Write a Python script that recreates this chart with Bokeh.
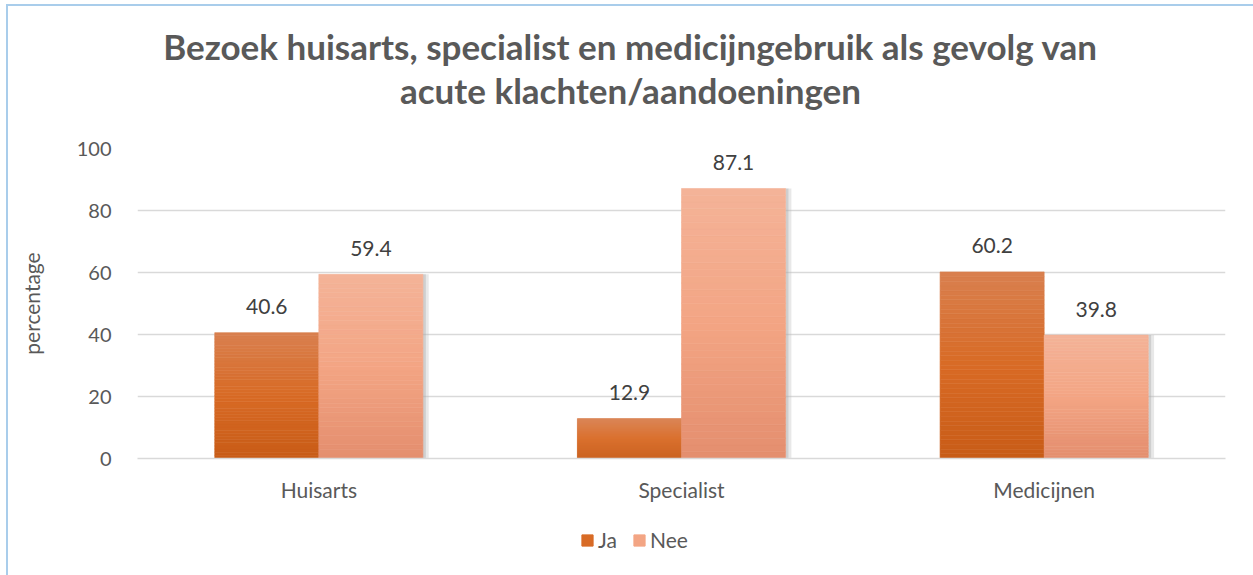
from bokeh.plotting import figure
from bokeh.layouts import column
from bokeh.models import (ColumnDataSource, FactorRange, Range1d, Legend,
                          LegendItem)
from bokeh.transform import dodge
from bokeh.core.properties import value
from bokeh.embed import file_html
from bokeh.resources import INLINE

# ---- data ----
categories = ["Huisarts", "Specialist", "Medicijnen"]
ja = [40.6, 12.9, 60.2]
nee = [59.4, 87.1, 39.8]
series_names = ["Ja", "Nee"]
title_lines = ["Bezoek huisarts, specialist en medicijngebruik als gevolg van",
               "acute klachten/aandoeningen"]
y_ticks = [0, 20, 40, 60, 80, 100]

FONT = "Lato"
TXT = "#595959"

# gradient stops (bottom, middle, top)
ja_stops = [(0xC8, 0x5C, 0x17), (0xD8, 0x6A, 0x25), (0xD9, 0x80, 0x4F)]
nee_stops = [(0xE4, 0x8E, 0x6E), (0xF3, 0xA5, 0x84), (0xF4, 0xB3, 0x98)]


def mix(stops, t):
    if t < 0.5:
        a, b, u = stops[0], stops[1], t / 0.5
    else:
        a, b, u = stops[1], stops[2], (t - 0.5) / 0.5
    c = [round(a[k] + (b[k] - a[k]) * u) for k in range(3)]
    return "#%02x%02x%02x" % tuple(c)


N = 40


def slices(vals, stops):
    d = dict(cat=[], bottom=[], top=[], color=[])
    for c, v in zip(categories, vals):
        for i in range(N):
            d["cat"].append(c)
            d["bottom"].append(v * i / N)
            d["top"].append(v * (i + 1) / N)
            d["color"].append(mix(stops, (i + 0.5) / N))
    return ColumnDataSource(d)


W = 1245
TITLE_H, MAIN_H, LEG_H = 124, 375, 70

# ---------- title strip (frame is aligned with the main chart's frame) ----------
pt = figure(width=W, height=TITLE_H, x_range=Range1d(137, 1225),
            y_range=Range1d(6 + TITLE_H, 6), output_backend="svg",
            toolbar_location=None, x_axis_location=None, y_axis_location=None,
            min_border=0)
pt.outline_line_color = None
pt.grid.visible = False
pt.text(x=[630, 630], y=[45.2, 89.8], text=title_lines,
        text_font=value(FONT), text_font_size="35px", text_font_style="bold",
        text_color=TXT, text_align="center", text_baseline="alphabetic")

# ---------- main chart ----------
p = figure(x_range=FactorRange(*categories, range_padding=0),
           y_range=Range1d(0, 100), width=W, height=MAIN_H,
           output_backend="svg", toolbar_location=None,
           min_border_left=129, min_border_right=28,
           min_border_top=18, min_border_bottom=47)
p.outline_line_color = None
p.background_fill_color = "white"
p.border_fill_color = "white"

BW = 0.287
OFF = 0.1435

shadow = ColumnDataSource(dict(cat=categories, top=nee))
p.vbar(x=dodge("cat", OFF + BW / 2 + 0.008, range=p.x_range), width=0.016,
       bottom=0, top="top", source=shadow, fill_color="#bdbdbd",
       fill_alpha=0.35, line_color=None)
p.vbar(x=dodge("cat", OFF + BW / 2 + 0.004, range=p.x_range), width=0.008,
       bottom=0, top="top", source=shadow, fill_color="#a0a0a0",
       fill_alpha=0.35, line_color=None)

src_ja = slices(ja, ja_stops)
src_nee = slices(nee, nee_stops)
for src, o in ((src_ja, -OFF), (src_nee, OFF)):
    p.vbar(x=dodge("cat", o, range=p.x_range), width=BW, bottom="bottom",
           top="top", source=src, fill_color="color", line_color="color",
           line_width=0.6)

px_per_unit = 310 / 100.0
for vals, o in ((ja, -OFF), (nee, OFF)):
    s = ColumnDataSource(dict(cat=categories,
                              y=[v + 26 / px_per_unit for v in vals],
                              t=["%.1f" % v for v in vals]))
    p.text(x=dodge("cat", o, range=p.x_range), y="y", text="t", source=s,
           text_font=value(FONT), text_font_size="21px", text_color="#404040",
           text_align="center", text_baseline="middle")

p.xgrid.grid_line_color = None
p.ygrid.grid_line_color = "#D9D9D9"
p.ygrid.grid_line_width = 1.5
p.yaxis.ticker = y_ticks
p.yaxis.axis_line_color = None
p.yaxis.major_tick_line_color = None
p.yaxis.minor_tick_line_color = None
p.yaxis.major_label_standoff = 20
p.yaxis.major_label_text_font = FONT
p.yaxis.major_label_text_font_size = "20px"
p.yaxis.major_label_text_color = TXT
p.yaxis.axis_label = "percentage"
p.yaxis.axis_label_text_font = FONT
p.yaxis.axis_label_text_font_size = "21px"
p.yaxis.axis_label_text_font_style = "normal"
p.yaxis.axis_label_text_color = TXT
p.yaxis.axis_label_standoff = 30

p.xaxis.axis_line_color = "#D9D9D9"
p.xaxis.axis_line_width = 1.5
p.xaxis.major_tick_line_color = None
p.xaxis.minor_tick_line_color = None
p.xaxis.major_label_standoff = 12
p.xaxis.major_label_text_font = FONT
p.xaxis.major_label_text_font_size = "21px"
p.xaxis.major_label_text_color = TXT

# ---------- legend strip ----------
pl = figure(width=W, height=LEG_H, x_range=p.x_range, y_range=Range1d(1000, 1001),
            output_backend="svg", toolbar_location=None, x_axis_location=None,
            y_axis_location=None, min_border=0)
pl.outline_line_color = None
pl.grid.visible = False
leg_renderers = []
for src, o in ((src_ja, -OFF), (src_nee, OFF)):
    leg_renderers.append(pl.vbar(x=dodge("cat", o, range=p.x_range), width=BW,
                                 bottom="bottom", top="top", source=src,
                                 fill_color="color", line_color="color"))
legend = Legend(items=[LegendItem(label=n, renderers=[r], index=N // 2)
                       for n, r in zip(series_names, leg_renderers)],
                orientation="horizontal", location=(443, 23),
                label_text_font=FONT, label_text_font_size="21px",
                label_text_color=TXT, glyph_width=14, glyph_height=14,
                border_line_color=None, background_fill_alpha=0,
                spacing=14, label_standoff=4, padding=4, margin=0)
pl.add_layout(legend, "center")

layout = column(pt, p, pl, spacing=0)
layout.margin = (4, 0, 0, 6)
layout.styles = {"border-left": "2px solid #A9CDEB", "border-top": "2px solid #A9CDEB"}

open("out.html", "w").write(file_html(layout, INLINE))
